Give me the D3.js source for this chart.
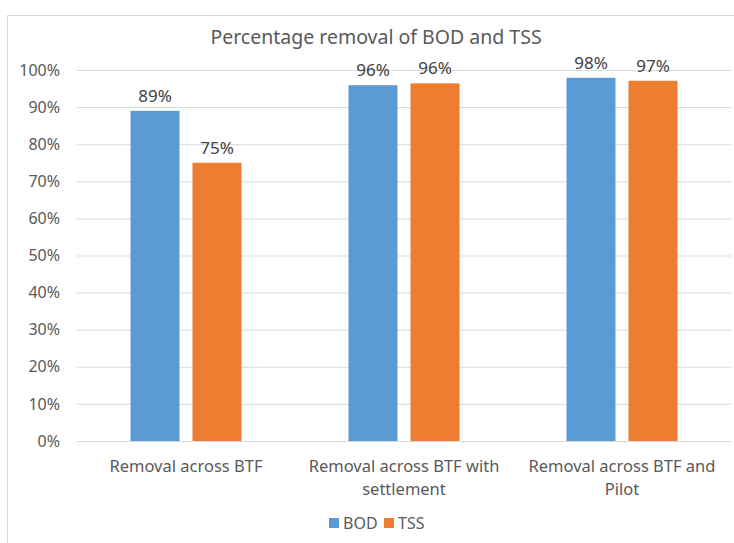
<!DOCTYPE html>
<html>
<head>
<meta charset="utf-8">
<script src="https://cdn.jsdelivr.net/npm/d3@7"></script>
<style>
  body { margin: 0; background: #fff; }
  text { font-family: "Noto Sans", sans-serif; fill: #595959; }
</style>
</head>
<body>
<svg id="chart"></svg>
<script>
const categories = [
  ["Removal across BTF"],
  ["Removal across BTF with", "settlement"],
  ["Removal across BTF and", "Pilot"],
];
const series = ["BOD", "TSS"];
const bod = [0.89, 0.959, 0.979];
const tss = [0.75, 0.964, 0.971];
const yTicks = [0, 0.1, 0.2, 0.3, 0.4, 0.5, 0.6, 0.7, 0.8, 0.9, 1.0];
const colors = ["#5b9bd5", "#ed7d31"];

const w = 734;
const h = 543;
const plotLeft = 77;
const plotRight = 731;
const plotTop = 70;
const plotBottom = 441;

const svg = d3.select("#chart").attr("width", w).attr("height", h);

// chart frame
svg.append("rect")
  .attr("x", 7.5).attr("y", 15.5)
  .attr("width", w).attr("height", h)
  .attr("fill", "none").attr("stroke", "#d9d9d9");

svg.append("text")
  .attr("x", 376).attr("y", 44)
  .attr("text-anchor", "middle")
  .style("font-size", "19.5px")
  .text("Percentage removal of BOD and TSS");

const xScale = d3.scaleBand()
  .domain(d3.range(categories.length))
  .range([plotLeft, plotRight]);

const x1 = d3.scaleBand()
  .domain(series)
  .range([xScale.bandwidth() / 2 - 55.5, xScale.bandwidth() / 2 + 55.5])
  .paddingInner(0.21);

const yScale = d3.scaleLinear().domain([0, 1]).range([plotBottom, plotTop]);

const yAxis = d3.axisLeft(yScale)
  .tickValues(yTicks)
  .tickSize(-(plotRight - plotLeft))
  .tickPadding(17)
  .tickFormat(d3.format(".0%"));

const gy = svg.append("g")
  .attr("transform", "translate(" + plotLeft + ",0)")
  .call(yAxis);
gy.select(".domain").remove();
gy.selectAll(".tick line").attr("stroke", "#d9d9d9");
gy.selectAll(".tick text")
  .style("font-size", "16px")
  .style("font-family", "Noto Sans")
  .attr("fill", "#595959");

const values = categories.map((c, i) => [bod[i], tss[i]]);

const groups = svg.selectAll(".cat")
  .data(values)
  .enter()
  .append("g")
  .attr("class", "cat")
  .attr("transform", (d, i) => "translate(" + xScale(i) + ",0)");

groups.selectAll("rect")
  .data((d) => d.map((v, j) => ({ s: series[j], v: v, c: colors[j] })))
  .enter()
  .append("rect")
  .attr("x", (d) => x1(d.s))
  .attr("width", x1.bandwidth())
  .attr("y", (d) => yScale(d.v))
  .attr("height", (d) => plotBottom - yScale(d.v))
  .attr("fill", (d) => d.c);

groups.selectAll(".lbl")
  .data((d) => d.map((v, j) => ({ s: series[j], v: v })))
  .enter()
  .append("text")
  .attr("class", "lbl")
  .attr("x", (d) => x1(d.s) + x1.bandwidth() / 2)
  .attr("y", (d) => yScale(d.v) - 9)
  .attr("text-anchor", "middle")
  .style("font-size", "17px")
  .style("fill", "#404040")
  .text((d) => d3.format(".0%")(d.v));

// category labels
const catText = svg.selectAll(".catlbl")
  .data(categories)
  .enter()
  .append("text")
  .attr("class", "catlbl")
  .attr("text-anchor", "middle")
  .attr("x", (d, i) => xScale(i) + xScale.bandwidth() / 2)
  .attr("y", 472)
  .style("font-size", "16.5px");
catText.selectAll("tspan")
  .data((d) => d)
  .enter()
  .append("tspan")
  .attr("x", function () { return d3.select(this.parentNode).attr("x"); })
  .attr("dy", (d, i) => (i === 0 ? 0 : 23))
  .text((d) => d);

// legend
const legend = svg.append("g");
const legendX = [329, 384];
series.forEach((s, i) => {
  legend.append("rect")
    .attr("x", legendX[i]).attr("y", 518)
    .attr("width", 10).attr("height", 10)
    .attr("fill", colors[i]);
  legend.append("text")
    .attr("x", legendX[i] + 14).attr("y", 529)
    .style("font-size", "16px")
    .text(s);
});
</script>
</body>
</html>
